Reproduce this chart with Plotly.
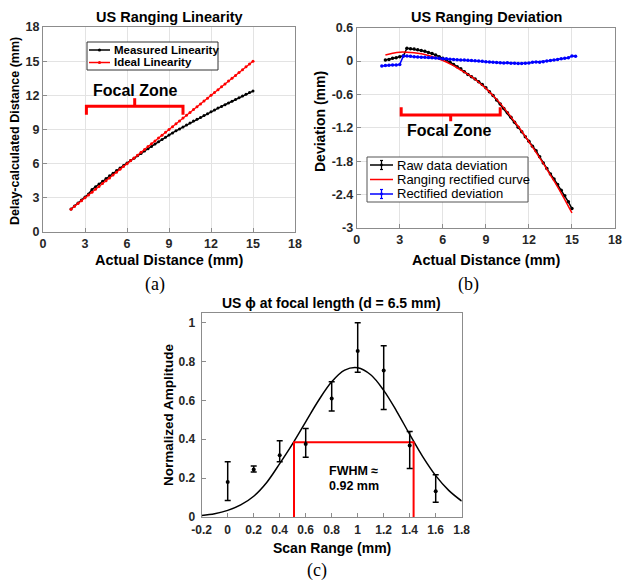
import plotly.graph_objects as go

# ---------------- Data ----------------
# Panel (a): US Ranging Linearity
actual_distance = [2.0, 2.25, 2.5, 2.75, 3.0, 3.25, 3.5, 3.75, 4.0, 4.25, 4.5, 4.75, 5.0, 5.25, 5.5, 5.75,
                   6.0, 6.25, 6.5, 6.75, 7.0, 7.25, 7.5, 7.75, 8.0, 8.25, 8.5, 8.75, 9.0, 9.25, 9.5, 9.75,
                   10.0, 10.25, 10.5, 10.75, 11.0, 11.25, 11.5, 11.75, 12.0, 12.25, 12.5, 12.75, 13.0,
                   13.25, 13.5, 13.75, 14.0, 14.25, 14.5, 14.75, 15.0]
measured_linearity = [2.02, 2.28, 2.55, 2.81, 3.08, 3.34, 3.73, 3.97, 4.22, 4.46, 4.69, 4.93, 5.16, 5.39,
                      5.61, 5.83, 6.05, 6.27, 6.48, 6.69, 6.90, 7.11, 7.31, 7.51, 7.72, 7.93, 8.13, 8.33,
                      8.52, 8.70, 8.88, 9.05, 9.23, 9.40, 9.57, 9.74, 9.90, 10.06, 10.23, 10.39, 10.56,
                      10.72, 10.89, 11.03, 11.17, 11.32, 11.47, 11.63, 11.79, 11.94, 12.09, 12.24, 12.37]
ideal_linearity = [2.0, 2.25, 2.5, 2.75, 3.0, 3.25, 3.5, 3.75, 4.0, 4.25, 4.5, 4.75, 5.0, 5.25, 5.5, 5.75,
                   6.0, 6.25, 6.5, 6.75, 7.0, 7.25, 7.5, 7.75, 8.0, 8.25, 8.5, 8.75, 9.0, 9.25, 9.5, 9.75,
                   10.0, 10.25, 10.5, 10.75, 11.0, 11.25, 11.5, 11.75, 12.0, 12.25, 12.5, 12.75, 13.0,
                   13.25, 13.5, 13.75, 14.0, 14.25, 14.5, 14.75, 15.0]

# Panel (b): US Ranging Deviation
raw_deviation = [0.02, 0.03, 0.05, 0.06, 0.08, 0.09, 0.23, 0.22, 0.215, 0.205, 0.19, 0.175, 0.155, 0.135,
                 0.11, 0.08, 0.05, 0.02, -0.02, -0.06, -0.10, -0.14, -0.19, -0.24, -0.28, -0.32, -0.37,
                 -0.42, -0.48, -0.55, -0.62, -0.70, -0.77, -0.85, -0.93, -1.01, -1.10, -1.19, -1.27,
                 -1.36, -1.44, -1.53, -1.61, -1.72, -1.83, -1.93, -2.03, -2.12, -2.22, -2.32, -2.42,
                 -2.53, -2.65]
curve_distance = [2.0, 2.5, 3.0, 3.5, 4.0, 4.5, 5.0, 5.5, 6.0, 6.5, 7.0, 7.5, 8.0, 8.5, 9.0, 9.5, 10.0,
                  10.5, 11.0, 11.5, 12.0, 12.5, 13.0, 13.5, 14.0, 14.5, 15.0]
rectified_curve = [0.11, 0.14, 0.16, 0.16, 0.15, 0.13, 0.10, 0.06, 0.01, -0.05, -0.12, -0.20, -0.28,
                   -0.38, -0.49, -0.62, -0.76, -0.92, -1.09, -1.26, -1.45, -1.64, -1.84, -2.05, -2.26,
                   -2.49, -2.73]
rectified_distance = [1.75, 2.0, 2.25, 2.5, 2.75, 3.0, 3.25, 3.5, 3.75, 4.0, 4.25, 4.5, 4.75, 5.0, 5.25,
                      5.5, 5.75, 6.0, 6.25, 6.5, 6.75, 7.0, 7.25, 7.5, 7.75, 8.0, 8.25, 8.5, 8.75, 9.0,
                      9.25, 9.5, 9.75, 10.0, 10.25, 10.5, 10.75, 11.0, 11.25, 11.5, 11.75, 12.0, 12.25,
                      12.5, 12.75, 13.0, 13.25, 13.5, 13.75, 14.0, 14.25, 14.5, 14.75, 15.0, 15.25]
rectified_deviation = [-0.09, -0.08, -0.075, -0.07, -0.07, -0.06, 0.09, 0.09, 0.085, 0.08, 0.075, 0.07,
                       0.07, 0.065, 0.06, 0.055, 0.05, 0.04, 0.04, 0.035, 0.03, 0.025, 0.02, 0.02, 0.015,
                       0.01, 0.005, 0.0, -0.005, -0.01, -0.015, -0.02, -0.025, -0.03, -0.035, -0.03,
                       -0.04, -0.04, -0.045, -0.045, -0.04, -0.035, -0.02, -0.015, -0.02, -0.01, 0.0,
                       0.01, 0.02, 0.03, 0.04, 0.05, 0.06, 0.09, 0.085]

# Panel (c): US phi at focal length
scan_range = [0.0, 0.2, 0.4, 0.6, 0.8, 1.0, 1.2, 1.4, 1.6]
amplitude = [0.18, 0.245, 0.318, 0.376, 0.61, 0.855, 0.754, 0.368, 0.132]
amplitude_upper = [0.284, 0.262, 0.392, 0.455, 0.696, 1.0, 0.882, 0.44, 0.218]
amplitude_lower = [0.085, 0.232, 0.284, 0.307, 0.545, 0.745, 0.553, 0.25, 0.076]
fit_range = [-0.2, -0.1, 0.0, 0.1, 0.2, 0.3, 0.4, 0.5, 0.6, 0.7, 0.8, 0.9, 1.0, 1.1, 1.2, 1.3, 1.4,
             1.5, 1.6, 1.7, 1.8]
fit_amplitude = [0.008, 0.017, 0.034, 0.062, 0.107, 0.178, 0.275, 0.378, 0.49, 0.601, 0.696, 0.756,
                 0.768, 0.732, 0.652, 0.544, 0.425, 0.311, 0.213, 0.137, 0.082]
fwhm_left, fwhm_right, half_max = 0.51, 1.43, 0.385

# Annotation brackets (focal zone 3-10 mm)
focal_start, focal_end, focal_mid = 3.1, 10.0, 6.55
bracket_a = [10.3, 11.05, 11.75]   # end, bar, tip (panel a)
bracket_b = [-0.83, -0.97, -1.08]  # end, bar, tip (panel b)

# Tick labels
ticks_ab_x = [0, 3, 6, 9, 12, 15, 18]
ticks_a_y = [0, 3, 6, 9, 12, 15, 18]
ticks_b_y = [0.6, 0, -0.6, -1.2, -1.8, -2.4, -3]
ticks_b_y_text = ["0.6", "0", "-0.6", "-1.2", "-1.8", "-2.4", "-3"]
ticks_c_x = [-0.2, 0, 0.2, 0.4, 0.6, 0.8, 1.0, 1.2, 1.4, 1.6, 1.8]
ticks_c_x_text = ["-0.2", "0", "0.2", "0.4", "0.6", "0.8", "1", "1.2", "1.4", "1.6", "1.8"]
ticks_c_y = [0, 0.2, 0.4, 0.6, 0.8, 1.0]
ticks_c_y_text = ["0", "0.2", "0.4", "0.6", "0.8", "1"]

legend_a_names = ["Measured Linearity", "Ideal Linearity"]
legend_a_colors = ["black", "#ff0000"]
legend_b_names = ["Raw data deviation", "Ranging rectified curve", "Rectified deviation"]
legend_b_colors = ["black", "#ff0000", "#0000ff"]

# ---------------- Figure ----------------
W, H = 623, 582
SANS = "Liberation Sans, Arial, sans-serif"
SERIF = "Liberation Serif, Times New Roman, serif"
TICKC = "#262626"
FRAME = "#8c8c8c"
GRID = "#e3e3e3"


def px(x):
    return x / W


def py(y):
    return 1 - y / H


fig = go.Figure()

# --- panel (a)
fig.add_trace(go.Scatter(x=actual_distance, y=measured_linearity, mode="lines+markers",
                         name=legend_a_names[0], line=dict(color="black", width=1.5),
                         marker=dict(size=3, color="black"), xaxis="x", yaxis="y"))
fig.add_trace(go.Scatter(x=actual_distance, y=ideal_linearity, mode="lines+markers",
                         name=legend_a_names[1], line=dict(color="#ff0000", width=1.2),
                         marker=dict(size=3, color="#ff0000"), xaxis="x", yaxis="y"))
fig.add_trace(go.Scatter(
    x=[focal_start, focal_start, focal_end, focal_end, None, focal_mid, focal_mid],
    y=[bracket_a[0], bracket_a[1], bracket_a[1], bracket_a[0], None, bracket_a[1], bracket_a[2]],
    mode="lines", line=dict(color="#ff0000", width=3), hoverinfo="skip",
    xaxis="x", yaxis="y"))

# --- panel (b)
fig.add_trace(go.Scatter(x=actual_distance, y=raw_deviation, mode="lines+markers",
                         name=legend_b_names[0], line=dict(color="black", width=1.5),
                         marker=dict(size=3.5, color="black"), xaxis="x2", yaxis="y2"))
fig.add_trace(go.Scatter(x=curve_distance, y=rectified_curve, mode="lines", line_shape="spline",
                         name=legend_b_names[1], line=dict(color="#ff0000", width=1.5),
                         xaxis="x2", yaxis="y2"))
fig.add_trace(go.Scatter(x=rectified_distance, y=rectified_deviation, mode="lines+markers",
                         name=legend_b_names[2], line=dict(color="#0000ff", width=1.5),
                         marker=dict(size=3.5, color="#0000ff"), xaxis="x2", yaxis="y2"))
fig.add_trace(go.Scatter(
    x=[focal_start, focal_start, focal_end, focal_end, None, focal_mid, focal_mid],
    y=[bracket_b[0], bracket_b[1], bracket_b[1], bracket_b[0], None, bracket_b[1], bracket_b[2]],
    mode="lines", line=dict(color="#ff0000", width=3), hoverinfo="skip",
    xaxis="x2", yaxis="y2"))

# --- panel (c)
fig.add_trace(go.Scatter(x=fit_range, y=fit_amplitude, mode="lines", line_shape="spline",
                         line=dict(color="black", width=1.5), xaxis="x3", yaxis="y3"))
fig.add_trace(go.Scatter(
    x=[fwhm_left, fwhm_left, fwhm_right, fwhm_right],
    y=[0, half_max, half_max, 0],
    mode="lines", line=dict(color="#ff0000", width=2), hoverinfo="skip",
    xaxis="x3", yaxis="y3"))
fig.add_trace(go.Scatter(
    x=scan_range, y=amplitude, mode="markers",
    marker=dict(size=4, color="black"),
    error_y=dict(type="data", symmetric=False,
                 array=[u - v for u, v in zip(amplitude_upper, amplitude)],
                 arrayminus=[v - l for v, l in zip(amplitude, amplitude_lower)],
                 color="black", thickness=1.5, width=3),
    xaxis="x3", yaxis="y3"))

tickfont = dict(family=SANS, size=12.5, color=TICKC, weight="bold")
tickfont_c = dict(family=SANS, size=12, color=TICKC, weight="bold")

common = dict(showline=True, linecolor=FRAME, linewidth=1, mirror=True, ticks="inside",
              ticklen=4, tickcolor=FRAME, zeroline=False, automargin=False)

fig.update_layout(
    width=W, height=H, margin=dict(l=0, r=0, t=0, b=0),
    paper_bgcolor="white", plot_bgcolor="white", showlegend=False,
    xaxis=dict(domain=[px(43), px(295)], range=[0, 18], tickvals=ticks_ab_x, showgrid=True,
               gridcolor=GRID, tickfont=tickfont, anchor="y", **common),
    yaxis=dict(domain=[py(232), py(27)], range=[0, 18], tickvals=ticks_a_y, showgrid=True,
               gridcolor=GRID, tickfont=tickfont, anchor="x", **common),
    xaxis2=dict(domain=[px(356.7), px(615)], range=[0, 18], tickvals=ticks_ab_x, showgrid=True,
                gridcolor=GRID, tickfont=tickfont, anchor="y2", **common),
    yaxis2=dict(domain=[py(228), py(27.7)], range=[-3, 0.6], tickvals=ticks_b_y,
                ticktext=ticks_b_y_text, showgrid=True, gridcolor=GRID, tickfont=tickfont,
                anchor="x2", **common),
    xaxis3=dict(domain=[px(201.7), px(461.7)], range=[-0.2, 1.8], tickvals=ticks_c_x,
                ticktext=ticks_c_x_text, showgrid=False, tickfont=tickfont_c, anchor="y3",
                ticklabelstandoff=2, **common),
    yaxis3=dict(domain=[py(517), py(313)], range=[0, 1.05], tickvals=ticks_c_y,
                ticktext=ticks_c_y_text, showgrid=False, tickfont=tickfont_c, anchor="x3",
                ticklabelstandoff=3, **common),
)

ann = []
shapes = []


def text(x, y, s, size=13, bold=True, family=SANS, angle=0, color="black", anchor="center"):
    ann.append(dict(x=px(x), y=py(y), xref="paper", yref="paper", text=s, showarrow=False,
                    textangle=angle, xanchor=anchor, yanchor="middle",
                    font=dict(family=family, size=size, color=color,
                              weight="bold" if bold else "normal")))


def seg(x0, y0, x1, y1, color, width=1.5):
    shapes.append(dict(type="line", xref="paper", yref="paper", x0=px(x0), y0=py(y0),
                       x1=px(x1), y1=py(y1), line=dict(color=color, width=width)))


def dot(x, y, color, r=1.6):
    shapes.append(dict(type="circle", xref="paper", yref="paper", x0=px(x - r), x1=px(x + r),
                       y0=py(y + r), y1=py(y - r), fillcolor=color, line=dict(color=color, width=0)))


# titles
text(169, 16.5, "US Ranging Linearity", 14.5)
text(486, 16.5, "US Ranging Deviation", 14.5)
text(331.7, 302.5, "US \u03d5 at focal length (d = 6.5 mm)", 14)
# axis titles
text(169, 260, "Actual Distance (mm)", 14.5)
text(486, 260, "Actual Distance (mm)", 14.5)
text(331.7, 548, "Scan Range (mm)", 14)
text(15, 131, "Delay-calculated Distance (mm)", 12.5, angle=-90)
text(320, 121, "Deviation (mm)", 14, angle=-90)
text(168, 415, "Normalized Amplitude", 13.5, angle=-90)
# panel labels
text(155, 284, "(a)", 18, bold=False, family=SERIF)
text(468, 284, "(b)", 18, bold=False, family=SERIF)
text(317, 570, "(c)", 18, bold=False, family=SERIF)

# legend (a)
shapes.append(dict(type="rect", xref="paper", yref="paper", x0=px(87), x1=px(218), y0=py(70),
                   y1=py(42), fillcolor="white", line=dict(color="#333333", width=1)))
for i, (name, col) in enumerate(zip(legend_a_names, legend_a_colors)):
    yy = 50 + 12.5 * i
    seg(89, yy, 110, yy, col, 1.5)
    dot(99.5, yy, col)
    text(111.5, yy, name, 11.5, anchor="left")

# legend (b)
shapes.append(dict(type="rect", xref="paper", yref="paper", x0=px(367), x1=px(528), y0=py(202),
                   y1=py(157), fillcolor="white", line=dict(color="#555555", width=1)))
for i, (name, col) in enumerate(zip(legend_b_names, legend_b_colors)):
    yy = 165 + 14.5 * i
    seg(370, yy, 393, yy, col, 1.5)
    if i != 1:
        seg(381.5, yy - 4.5, 381.5, yy + 4.5, col, 1.2)
        seg(380, yy - 4.5, 383, yy - 4.5, col, 1.2)
        seg(380, yy + 4.5, 383, yy + 4.5, col, 1.2)
        dot(381.5, yy, col, 1.4)
    text(395, yy, name, 13, bold=False, anchor="left")

# data-anchored texts
ann.append(dict(x=6.6, y=12.4, xref="x", yref="y", text="Focal Zone", showarrow=False,
                font=dict(family=SANS, size=16, color="black", weight="bold")))
ann.append(dict(x=6.5, y=-1.25, xref="x2", yref="y2", text="Focal Zone", showarrow=False,
                font=dict(family=SANS, size=16, color="black", weight="bold")))
ann.append(dict(x=0.76, y=0.237, xref="x3", yref="y3", text="FWHM \u2248", showarrow=False,
                xanchor="left", font=dict(family=SANS, size=12.5, color="black", weight="bold")))
ann.append(dict(x=0.76, y=0.16, xref="x3", yref="y3", text="0.92 mm", showarrow=False,
                xanchor="left", font=dict(family=SANS, size=12.5, color="black", weight="bold")))

fig.update_layout(annotations=ann, shapes=shapes)

# remove the page's default 8px body margin so the 623x582 figure fills the window exactly
fig.write_html("out.html", config={"displayModeBar": False},
               post_script="document.body.style.margin='0px';")
